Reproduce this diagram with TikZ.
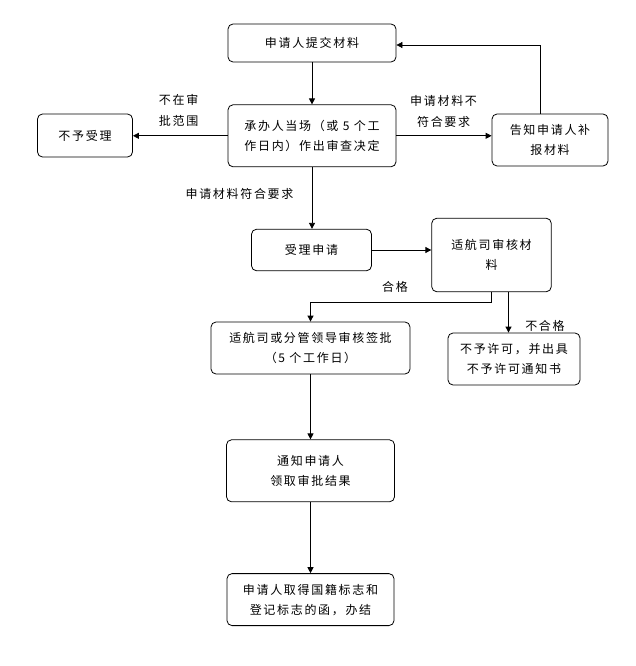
\documentclass[tikz,border=0pt]{standalone}
\usepackage{fontspec}
\setmainfont[LetterSpace=14]{Noto Sans CJK SC}
\usetikzlibrary{positioning, arrows.meta}

\begin{document}
\begin{tikzpicture}[x=1pt, y=-1pt, node distance=40pt,
	box/.style={draw, rounded corners=5pt, line width=0.8pt, align=center, inner sep=0pt, font=\fontsize{12}{20}\selectfont},
	lbl/.style={align=center, inner sep=0pt, font=\fontsize{12}{21}\selectfont},
	arr/.style={-{Triangle[length=6pt, width=6pt]}, line width=0.8pt}]

		\useasboundingbox (0,0) rectangle (636,666);

		% nodes - main column %
		\node[box, minimum width=168pt, minimum height=38pt] (a) at (312,43) {申请人提交材料};
		\node[box, minimum width=168pt, minimum height=62pt, below=42pt of a] (b) {承办人当场（或 5 个工\\作日内）作出审查决定};
		\node[box, minimum width=95pt, minimum height=43pt] (c) at (85,135.5) {不予受理};
		\node[box, minimum width=116pt, minimum height=52pt] (d) at (550,140) {告知申请人补\\报材料};
		\node[box, minimum width=120pt, minimum height=41.5pt] (e) at (311.5,250) {受理申请};
		\node[box, minimum width=119.5pt, minimum height=73.5pt] (f) at (491.5,255) {适航司审核材\\料};
		\node[box, minimum width=199pt, minimum height=52pt] (g) at (310.5,348) {适航司或分管领导审核签批\\（5 个工作日）};
		\node[box, minimum width=132pt, minimum height=52pt] (h) at (514,359) {不予许可，并出具\\不予许可通知书};
		\node[box, minimum width=168pt, minimum height=62pt, below=65pt of g] (i) {通知申请人\\领取审批结果};
		\node[box, minimum width=167pt, minimum height=52pt, below=71pt of i] (j) {申请人取得国籍标志和\\登记标志的函，办结};

		% labels %
		\node[lbl] (nofit) at (178.6,110.5) {不在审\\批范围};
		\node[lbl] (nomat) at (443.6,111) {申请材料不\\符合要求};
		\node[lbl] (okmat) at (239.5,194) {申请材料符合要求};
		\node[lbl] (pass) at (395,287) {合格};
		\node[lbl] (fail) at (545,326) {不合格};

		% edges %
		\draw[arr] (a) -- (b);
		\draw[arr] (b.west) -- (b.west -| c.east);
		\draw[arr] (b.east) -- (b.east -| d.west);
		\coordinate (dtop) at ([xshift=-10pt]d.north);
		\draw[arr] (dtop) |- ([yshift=-2pt]a.east);
		\draw[arr] (b) -- (b |- e.north);
		\draw[arr] (e.east) -- (e.east -| f.west);
		\draw[arr] (f.south) -- ++(0,10) -| (g.north);
		\coordinate (fbot) at ([xshift=17pt]f.south);
		\draw[arr] (fbot) -- (fbot |- h.north);
		\draw[arr] (g) -- (i);
		\draw[arr] (i) -- (j);

\end{tikzpicture}
\end{document}
